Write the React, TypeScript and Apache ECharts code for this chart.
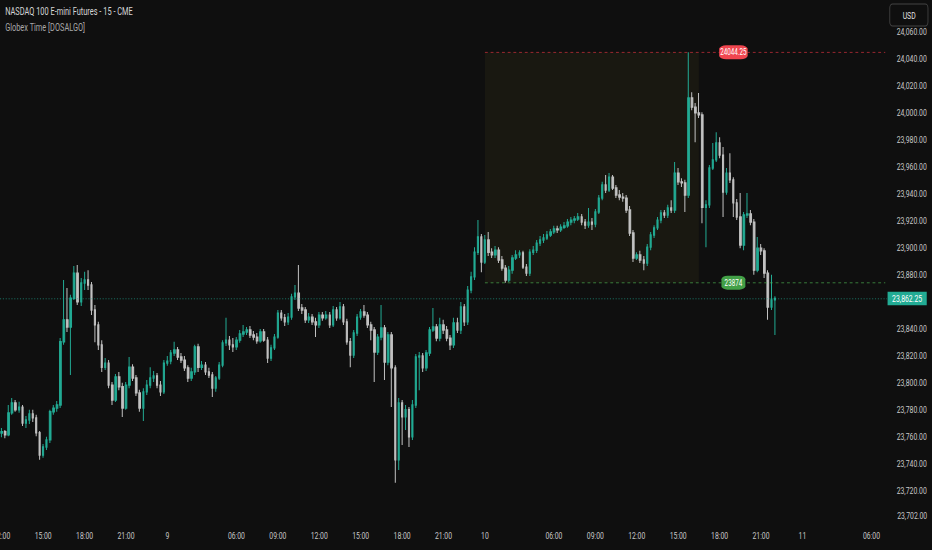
import React, { useEffect, useRef } from "react";
import * as echarts from "echarts";

// The reference is a horizontally condensed screenshot: the chart is laid out
// at a larger size and squeezed with a CSS scale so fonts keep their proportions.
const SX = 0.57;
const SY = 0.8;
const W = 1636;
const H = 688;
const FONT = 'Roboto, "Noto Sans", "Liberation Sans", sans-serif';

const chartTitle = "NASDAQ 100 E-mini Futures - 15 - CME";
const indicatorName = "Globex Time [DOSALGO]";
const currencyLabel = "USD";

// trading sessions (day, start, end-exclusive), 15-minute bars
const sessions: [number, string, string][] = [
  [8, "12:00", "24:00"],
  [9, "00:00", "04:00"],
  [9, "05:00", "24:00"],
  [10, "00:00", "04:00"],
  [10, "05:00", "24:00"],
  [11, "00:00", "04:00"],
  [11, "05:00", "07:15"],
];
const labelHours = ["00", "06", "09", "12", "15", "18", "21"];
const hiddenPriceTicks = [23700, 23860, 24080];

const sessionHigh = 24044.25;
const sessionLow = 23874;
const lastPrice = 23862.25;
const bottomPriceLabel = 23702;
const boxStartIndex = 140;
const boxEndIndex = 202;
const tagIndex = 212;

const opens = [
  23762.75, 23763.75, 23761.5, 23777.75, 23785, 23780, 23782, 23770.25, 23772.5, 23777,
  23774, 23763, 23746.5, 23752.5, 23757.75, 23778.5, 23781.25, 23783.5, 23830.25, 23846.5,
  23841.25, 23862.5, 23881, 23859.75, 23873.75, 23876, 23872.25, 23853.75, 23842.75, 23828,
  23811.5, 23814.5, 23798.25, 23787.25, 23804.25, 23797, 23781.25, 23798.25, 23811.5, 23803.5,
  23792.5, 23781.25, 23793.25, 23798.25, 23803.5, 23805, 23798.25, 23793.25, 23814.5, 23816,
  23822, 23824.25, 23819, 23816.75, 23811, 23803.5, 23808, 23826.5, 23811.5, 23813,
  23808, 23805.75, 23796, 23803.5, 23813, 23829.5, 23831.5, 23828, 23826.5, 23831.5,
  23836, 23837.5, 23839, 23835.25, 23833.75, 23831, 23837.5, 23831.5, 23818.25, 23825.75,
  23833.75, 23851.5, 23848, 23845, 23848.5, 23863.5, 23866.25, 23855.25, 23853.75, 23846.5,
  23848.5, 23845, 23842.75, 23850, 23848, 23850, 23842.75, 23853.75, 23848, 23856,
  23845, 23830.25, 23820.5, 23836.75, 23848.5, 23852.25, 23850, 23842.75, 23839, 23822.75,
  23833.75, 23840.5, 23815.25, 23835.25, 23811, 23743, 23785, 23774.75, 23780, 23760,
  23783.5, 23819, 23819.75, 23811, 23822, 23839, 23841.25, 23833, 23842.75, 23839,
  23833, 23828, 23844.25, 23839, 23856, 23845, 23868.5, 23878.25, 23896.5, 23907.75,
  23889.25, 23905.5, 23896.5, 23894.5, 23898, 23890.75, 23884.75, 23876, 23883.25, 23892.25,
  23894.5, 23896, 23885.5, 23881, 23896.5, 23898, 23903.25, 23905.5, 23907, 23909.25,
  23911.5, 23913.75, 23913, 23915, 23916, 23918.75, 23920.25, 23921, 23922.5, 23918.75,
  23916.5, 23918.75, 23917.25, 23926.25, 23936.5, 23946.25, 23942.5, 23952, 23944, 23938.75,
  23937.25, 23936.5, 23927.75, 23910.75, 23892.25, 23894.5, 23890.75, 23888.5, 23900.25, 23909.25,
  23914.5, 23920.25, 23925.5, 23924, 23929.25, 23927.75, 23955, 23948.5, 23947.75, 23938.75,
  24010.5, 24003.75, 23999.5, 23998, 23929.75, 23931.5, 23958.75, 23964.75, 23977.25, 23968.25,
  23941, 23955, 23950, 23933, 23922.5, 23901.75, 23924, 23924.75, 23918.75, 23883.25,
  23899.5, 23897.5, 23881, 23856, 23861.25,
];

const closes = [
  23763.75, 23761.5, 23777.75, 23785, 23780, 23782, 23770.25, 23772.5, 23777, 23774,
  23763, 23746.5, 23752.5, 23757.75, 23778.5, 23781.25, 23783.5, 23830.25, 23846.5, 23841.25,
  23862.5, 23881, 23859.75, 23873.75, 23876, 23872.25, 23853.75, 23842.75, 23828, 23811.5,
  23814.5, 23798.25, 23787.25, 23804.25, 23797, 23781.25, 23798.25, 23811.5, 23803.5, 23792.5,
  23781.25, 23793.25, 23798.25, 23803.5, 23805, 23798.25, 23793.25, 23814.5, 23816, 23822,
  23824.25, 23819, 23816.75, 23811, 23803.5, 23808, 23826.5, 23811.5, 23813, 23808,
  23805.75, 23796, 23803.5, 23813, 23829.5, 23831.5, 23828, 23826.5, 23831.5, 23836,
  23837.5, 23839, 23835.25, 23833.75, 23831, 23837.5, 23831.5, 23818.25, 23825.75, 23833.75,
  23851.5, 23848, 23845, 23848.5, 23863.5, 23866.25, 23855.25, 23853.75, 23846.5, 23848.5,
  23845, 23842.75, 23850, 23848, 23850, 23842.75, 23853.75, 23848, 23856, 23845,
  23830.25, 23820.5, 23836.75, 23848.5, 23852.25, 23850, 23842.75, 23839, 23822.75, 23833.75,
  23840.5, 23815.25, 23835.25, 23811, 23743, 23785, 23774.75, 23780, 23760, 23783.5,
  23819, 23819.75, 23811, 23822, 23839, 23841.25, 23833, 23842.75, 23839, 23833,
  23828, 23844.25, 23839, 23856, 23845, 23868.5, 23878.25, 23896.5, 23907.75, 23889.25,
  23905.5, 23896.5, 23894.5, 23898, 23890.75, 23884.75, 23876, 23883.25, 23892.25, 23894.5,
  23896, 23885.5, 23881, 23896.5, 23898, 23903.25, 23905.5, 23907, 23909.25, 23911.5,
  23913.75, 23913, 23915, 23916, 23918.75, 23920.25, 23921, 23922.5, 23918.75, 23916.5,
  23918.75, 23917.25, 23926.25, 23936.5, 23946.25, 23942.5, 23952, 23944, 23938.75, 23937.25,
  23936.5, 23927.75, 23910.75, 23892.25, 23894.5, 23890.75, 23888.5, 23900.25, 23909.25, 23914.5,
  23920.25, 23925.5, 23924, 23929.25, 23927.75, 23955, 23948.5, 23947.75, 23938.75, 24010.5,
  24003.75, 23999.5, 23998, 23929.75, 23931.5, 23958.75, 23964.75, 23977.25, 23968.25, 23941,
  23955, 23950, 23933, 23922.5, 23901.75, 23924, 23924.75, 23918.75, 23883.25, 23899.5,
  23897.5, 23881, 23856, 23861.25, 23862.25,
];

const lows = [
  23759.75, 23759, 23760.5, 23776.25, 23778.5, 23777.75, 23768, 23766.5, 23769.5, 23771,
  23760.5, 23743, 23744.5, 23750.25, 23755.5, 23776.25, 23778.5, 23781.25, 23828, 23837.5,
  23805.75, 23861.25, 23857.5, 23856.75, 23868.5, 23868.5, 23850, 23830, 23824.25, 23808,
  23809.5, 23796, 23783.5, 23785.75, 23794.5, 23774.75, 23780, 23796, 23801.25, 23790.25,
  23778.5, 23771.75, 23791, 23796, 23800.5, 23796, 23790.25, 23791.75, 23812.5, 23813.75,
  23819.75, 23816.75, 23814.5, 23808.75, 23800.5, 23801.25, 23805.75, 23808, 23809.5, 23805.75,
  23803.5, 23789.5, 23793.25, 23802, 23811.5, 23827.25, 23824.25, 23822.75, 23824.25, 23829.5,
  23833.75, 23835.25, 23833, 23831.5, 23828.75, 23829.5, 23830.25, 23814.5, 23816, 23824.25,
  23832.5, 23845.75, 23842, 23842.75, 23846.5, 23861.25, 23853, 23850.75, 23844.25, 23844.25,
  23842.75, 23833.75, 23840.5, 23845.75, 23846.5, 23840.5, 23841.25, 23845.75, 23846.5, 23842.75,
  23828, 23811.5, 23818.25, 23834.5, 23846.5, 23848, 23840.5, 23831.5, 23800.5, 23820.5,
  23831.5, 23802, 23813, 23782, 23726, 23735.5, 23754, 23765, 23752.5, 23757.75,
  23781.25, 23794.5, 23808, 23808.75, 23819.75, 23837.5, 23830.75, 23830.75, 23836, 23830.75,
  23824.25, 23825.75, 23836.75, 23836, 23842, 23842.75, 23866.25, 23876, 23894.5, 23881.75,
  23887.75, 23893.75, 23892.25, 23892.25, 23888.5, 23882.75, 23874, 23874.5, 23880.5, 23890.75,
  23892.25, 23884, 23879, 23879, 23894.5, 23896, 23901, 23903.25, 23905.5, 23907.75,
  23910, 23910.75, 23911.5, 23913.75, 23914.5, 23916.5, 23918, 23919.5, 23916.5, 23913.75,
  23914.5, 23913, 23915, 23924.75, 23935, 23940.25, 23941, 23942.5, 23936.5, 23935,
  23933.75, 23925.5, 23908.5, 23889.25, 23890.75, 23888.5, 23883.25, 23886.25, 23898, 23907,
  23913, 23918, 23921.75, 23921.75, 23925.5, 23925.5, 23946.25, 23944.75, 23926.25, 23936.5,
  24001.5, 23977.75, 23995.75, 23918, 23900.25, 23929.25, 23957.25, 23963.25, 23966, 23922.5,
  23939, 23947.75, 23922.5, 23920.25, 23899.5, 23898, 23921.75, 23916.5, 23879.75, 23881.75,
  23894.5, 23877.5, 23846.5, 23853.75, 23835.25,
];

const highs = [
  23766.5, 23765, 23783.5, 23788.75, 23787.25, 23786, 23783.5, 23775.5, 23780, 23780,
  23776.25, 23764.25, 23754.75, 23760, 23780, 23783.5, 23786.5, 23833, 23876, 23870,
  23865, 23886.25, 23887, 23877.5, 23882, 23883.25, 23874.5, 23857.5, 23845, 23831.5,
  23818.25, 23816.75, 23800.5, 23806.5, 23808, 23800, 23800.5, 23819, 23813.75, 23805.75,
  23794.75, 23796, 23802, 23811.5, 23808.75, 23807.25, 23801.25, 23816.75, 23819.75, 23824.25,
  23830.25, 23826.5, 23822, 23819.75, 23813, 23811, 23828, 23828.75, 23816, 23815.25,
  23811, 23808, 23805, 23815.25, 23831.5, 23848, 23834.5, 23833, 23833.75, 23839,
  23842.75, 23841.25, 23842, 23838.25, 23836.75, 23839.75, 23839.75, 23833.75, 23828, 23836,
  23853.75, 23853.75, 23850.75, 23851.5, 23865.75, 23872.25, 23887, 23858.25, 23856, 23851.5,
  23850.75, 23848, 23852.25, 23852.25, 23853, 23852.25, 23856.75, 23856, 23859.75, 23858.25,
  23847.25, 23833, 23839, 23850.75, 23854.5, 23857.5, 23852.25, 23845, 23841.25, 23836,
  23857.5, 23842.75, 23837.5, 23837.5, 23813, 23788.75, 23787.25, 23783.5, 23782, 23787.25,
  23821.25, 23822.75, 23822, 23824.25, 23841.25, 23855.25, 23843.5, 23848, 23846.5, 23842,
  23835.25, 23848, 23848, 23859.75, 23858.25, 23871.5, 23882, 23900.25, 23920.25, 23910,
  23909.25, 23911.5, 23899.5, 23901, 23900.25, 23893.75, 23887, 23886.25, 23894.5, 23898,
  23898, 23897.5, 23887.75, 23898.75, 23901, 23905.5, 23908.5, 23910, 23912.25, 23913.75,
  23916, 23916, 23917.25, 23918.75, 23921, 23922.5, 23923.25, 23925.5, 23924.75, 23921,
  23929.25, 23921.75, 23928.5, 23938.75, 23948.5, 23953.5, 23955, 23953.5, 23946.25, 23942.5,
  23940.25, 23938.75, 23930.75, 23913, 23896.5, 23897.5, 23893.75, 23902.5, 23911.5, 23916.5,
  23922.5, 23927.75, 23927.75, 23931.5, 23935, 23963.25, 23958.75, 23951.25, 23950, 24044.25,
  24014.75, 24006.75, 24014.25, 24000, 23935, 23961, 23977.25, 23985.25, 23981.5, 23974.25,
  23958.75, 23969.75, 23952, 23935.75, 23940.25, 23926.25, 23940.25, 23927.75, 23921, 23907.75,
  23902.5, 23899.5, 23883.25, 23879.75, 23864,
];

function buildCategories(): string[] {
  const out: string[] = [];
  const toMin = (s: string) => parseInt(s.slice(0, 2), 10) * 60 + parseInt(s.slice(3), 10);
  sessions.forEach(([day, start, end]) => {
    for (let m = toMin(start); m < toMin(end); m += 15) {
      const hh = String(Math.floor(m / 60)).padStart(2, "0");
      const mm = String(m % 60).padStart(2, "0");
      out.push(`${day} ${hh}:${mm}`);
    }
  });
  return out;
}

const fmt = (v: number) =>
  v.toLocaleString("en-US", { minimumFractionDigits: 2, maximumFractionDigits: 2 });

export default function App() {
  const ref = useRef<HTMLDivElement>(null);

  useEffect(() => {
    document.body.style.margin = "0";
    document.body.style.background = "#0f0f0f";
    document.documentElement.style.overflow = "hidden";
    if (!ref.current) return;
    const chart = echarts.init(ref.current, undefined, { renderer: "svg" });
    const categories = buildCategories();
    const candles = opens.map((o, i) => [o, closes[i], lows[i], highs[i]]);
    const lastCat = categories[categories.length - 1];
    const gridW = 887 / SX;
    const gridTop = 4 / SY;
    const gridH = 514 / SY;

    const option: any = {
      animation: false,
      backgroundColor: "#0f0f0f",
      textStyle: { fontFamily: FONT },
      grid: { left: 0, top: gridTop, width: gridW, height: gridH, outerBoundsMode: "none", containLabel: false },
      xAxis: {
        type: "category",
        data: categories,
        boundaryGap: true,
        axisLine: { show: false },
        axisTick: { show: false },
        splitLine: { show: false },
        axisLabel: {
          color: "#c8c8c8",
          fontSize: 12,
          fontFamily: FONT,
          margin: 16,
          interval: (_i: number, v: string) => {
            const t = v.split(" ")[1];
            return t.slice(3) === "00" && labelHours.includes(t.slice(0, 2));
          },
          formatter: (v: string) => {
            const [d, t] = v.split(" ");
            return t === "00:00" ? d : t;
          },
        },
      },
      yAxis: {
        type: "value",
        position: "right",
        min: 23700,
        max: 24080,
        interval: 20,
        axisLine: { show: false },
        axisTick: { show: false },
        splitLine: { show: false },
        axisLabel: {
          color: "#c8c8c8",
          fontSize: 12,
          fontFamily: FONT,
          margin: 17,
          formatter: (v: number) => (hiddenPriceTicks.includes(v) ? "" : fmt(v)),
        },
      },
      series: [
        {
          type: "candlestick",
          data: candles,
          barWidth: 3,
          itemStyle: {
            color: "#22ab94",
            color0: "#c2c2c2",
            borderColor: "#22ab94",
            borderColor0: "#c2c2c2",
            borderWidth: 1.75,
          },
          markArea: {
            silent: true,
            itemStyle: { color: "rgba(255,235,59,0.045)" },
            data: [
              [
                { coord: [categories[boxStartIndex], sessionHigh] },
                { coord: [categories[boxEndIndex], sessionLow] },
              ],
            ],
          },
          markLine: {
            silent: true,
            symbol: ["none", "none"],
            data: [
              [
                { coord: [categories[boxStartIndex], sessionHigh], lineStyle: { color: "rgba(242,54,69,0.7)", type: [5, 5], width: 1.25 }, label: { show: false } },
                { coord: [lastCat, sessionHigh] },
              ],
              [
                { coord: [categories[boxStartIndex], sessionLow], lineStyle: { color: "rgba(76,175,80,0.8)", type: [5, 5], width: 1.25 }, label: { show: false } },
                { coord: [lastCat, sessionLow] },
              ],
              {
                yAxis: lastPrice,
                lineStyle: { color: "rgba(34,171,148,0.7)", type: [2, 3], width: 1.25 },
                label: {
                  show: true,
                  position: "end",
                  distance: 1,
                  formatter: fmt(lastPrice),
                  backgroundColor: "#22ab94",
                  color: "#ffffff",
                  fontSize: 12,
                  fontFamily: FONT,
                  padding: [3, 8, 2, 8],
                },
              },
            ],
          },
          markPoint: {
            silent: true,
            data: [
              {
                coord: [categories[tagIndex], sessionHigh],
                symbol: "roundRect",
                symbolSize: [50, 17.5],
                itemStyle: { color: "#f0464f" },
                label: { show: true, position: "inside", formatter: String(sessionHigh), color: "#ffffff", fontSize: 11, fontFamily: FONT },
              },
              {
                coord: [categories[tagIndex], sessionLow],
                symbol: "roundRect",
                symbolSize: [42, 17.5],
                itemStyle: { color: "#43a047" },
                label: { show: true, position: "inside", formatter: String(sessionLow), color: "#ffffff", fontSize: 11, fontFamily: FONT },
              },
            ],
          },
        },
      ],
      graphic: [
        { type: "text", x: 9, y: 15, style: { text: chartTitle, fill: "#d6d6d6", fontSize: 13, fontFamily: FONT, verticalAlign: "middle" } },
        { type: "text", x: 9, y: 34, style: { text: indicatorName, fill: "#a8a8a8", fontSize: 13, fontFamily: FONT, verticalAlign: "middle" } },
        {
          type: "rect",
          shape: { x: 1561, y: 5, width: 67, height: 27.5, r: 5 },
          style: { fill: "#0f0f0f", stroke: "#444444", lineWidth: 1.5 },
        },
        { type: "text", x: 1595, y: 19, style: { text: currencyLabel, fill: "#e0e0e0", fontSize: 12, fontFamily: FONT, align: "center", verticalAlign: "middle" } },
        { type: "text", x: 1574, y: 645, style: { text: fmt(bottomPriceLabel), fill: "#c8c8c8", fontSize: 12, fontFamily: FONT, verticalAlign: "middle" } },
      ],
    };
    chart.setOption(option);
    return () => chart.dispose();
  }, []);

  return (
    <div
      ref={ref}
      style={{
        position: "fixed",
        left: 0,
        top: 0,
        width: W,
        height: H,
        background: "#0f0f0f",
        transform: `scale(${SX}, ${SY})`,
        transformOrigin: "0 0",
      }}
    />
  );
}
